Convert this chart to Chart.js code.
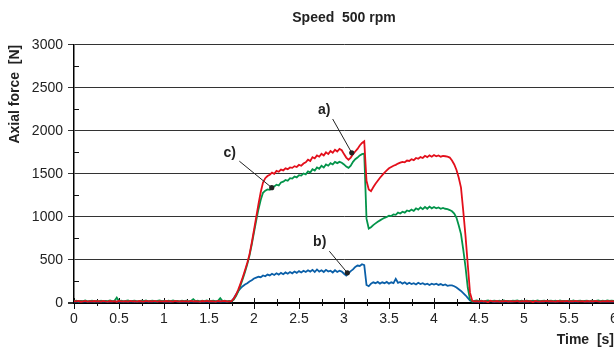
<!DOCTYPE html>
<html>
<head>
<meta charset="utf-8">
<title>Speed 500 rpm</title>
<script src="https://cdn.jsdelivr.net/npm/chart.js@4.4.0/dist/chart.umd.min.js"></script>
<style>
  html, body { margin: 0; padding: 0; background: #fff; }
  #wrap { width: 614px; height: 347px; }
</style>
</head>
<body>
<div id="wrap"><canvas id="force-chart" width="614" height="347"></canvas></div>
<script>
// sampling grid: one reading every 0.025 s, 0 .. 6 s
const times = Array.from({ length: 241 }, (_, i) => +(i * 0.025).toFixed(3));

// a) red curve
const forceA = [
  22, 18, 25, 15, 20, 24, 17, 21, 19, 23,
  18, 22, 16, 25, 20, 17, 23, 19, 21, 15,
  24, 18, 20, 22, 16, 25, 19, 21, 17, 23,
  20, 16, 24, 19, 22, 18, 25, 17, 21, 20,
  18, 23, 19, 21, 16, 24, 20, 18, 22, 19,
  21, 17, 24, 18, 22, 20, 16, 23, 19, 25,
  18, 22, 20, 17, 24, 19, 21, 23, 18, 20,
  22, 50, 95, 155, 225, 300, 380, 465, 565, 700,
  850, 1000, 1150, 1290, 1400, 1450, 1475, 1490, 1515, 1500,
  1535, 1525, 1550, 1540, 1565, 1555, 1575, 1570, 1590, 1580,
  1605, 1595, 1620, 1635, 1665, 1650, 1695, 1680, 1715, 1700,
  1735, 1715, 1750, 1730, 1765, 1745, 1780, 1760, 1790, 1775,
  1730, 1690, 1665, 1690, 1730, 1760, 1790, 1830, 1860, 1880,
  1420, 1320, 1300, 1345, 1385, 1420, 1455, 1485, 1515, 1540,
  1565, 1580, 1595, 1605, 1620, 1630, 1640, 1635, 1655, 1650,
  1670, 1660, 1685, 1675, 1695, 1685, 1710, 1695, 1715, 1700,
  1720, 1705, 1715, 1700, 1710, 1705, 1700, 1690, 1655, 1610,
  1545, 1455, 1340, 1070, 780, 450, 120, 25, 18, 22,
  16, 24, 19, 21, 8, 26, 18, 20, 23, 17,
  21, 19, 25, 16, 22, 18, 20, 24, 17, 21,
  19, 23, 18, 22, 10, 25, 20, 17, 22, 19,
  24, 18, 21, 20, 16, 23, 19, 22, 18, 25,
  17, 21, 19, 24, 18, 20, 22, 16, 23, 19,
  21, 18, 24, 20, 17, 22, 19, 23, 18, 21,
  20
];

// c) green curve
const forceC = [
  20, 26, 18, 24, 21, 30, 19, 23, 27, 18,
  25, 20, 28, 19, 24, 22, 30, 21, 26, 62,
  22, 27, 19, 25, 30, 20, 24, 28, 19, 23,
  26, 21, 29, 20, 24, 27, 18, 25, 30, 22,
  24, 19, 27, 22, 30, 21, 25, 18, 26, 23,
  28, 20, 24, 45, 22, 26, 19, 27, 23, 30,
  21, 25, 28, 20, 24, 55, 22, 26, 19, 24,
  20, 40, 80, 135, 205, 280, 360, 450, 550, 680,
  820, 960, 1090, 1200, 1280, 1305, 1320, 1315, 1340, 1355,
  1375, 1365, 1400, 1410, 1430, 1420, 1450, 1445, 1470, 1460,
  1485, 1480, 1505, 1495, 1530, 1515, 1555, 1540, 1575, 1560,
  1595, 1575, 1610, 1595, 1625, 1610, 1640, 1625, 1640, 1630,
  1610, 1585, 1570, 1595, 1640, 1670, 1690, 1715, 1730, 1735,
  980, 865, 880, 905, 925, 945, 960, 975, 990, 1000,
  1015, 1010, 1030, 1025, 1050, 1040, 1060, 1050, 1075, 1065,
  1085, 1070, 1100, 1085, 1110, 1090, 1115, 1095, 1120, 1100,
  1115, 1100, 1110, 1095, 1105, 1095, 1090, 1080, 1065, 1040,
  990, 900, 800, 620, 420, 180, 40, 15, 24, 30,
  22, 27, 19, 25, 30, 21, 24, 28, 20, 26,
  23, 29, 21, 25, 19, 27, 24, 30, 22, 26,
  20, 28, 24, 19, 26, 22, 30, 21, 25, 27,
  19, 24, 28, 22, 26, 20, 29, 23, 25, 21,
  27, 22, 30, 19, 25, 28, 21, 24, 26, 20,
  28, 23, 25, 30, 21, 26, 22, 29, 24, 27,
  23
];

// b) blue curve
const forceB = [
  16, 19, 14, 18, 17, 20, 15, 18, 16, 19,
  17, 15, 20, 16, 18, 14, 19, 17, 21, 16,
  18, 16, 19, 15, 20, 17, 18, 14, 19, 16,
  17, 20, 15, 18, 16, 19, 17, 15, 20, 18,
  16, 19, 17, 14, 18, 20, 15, 17, 19, 16,
  18, 15, 20, 17, 16, 19, 14, 18, 17, 20,
  16, 18, 15, 19, 17, 20, 16, 18, 15, 19,
  20, 55, 100, 140, 170, 195, 215, 230, 250, 265,
  285, 295, 305, 300, 320, 310, 330, 320, 340, 325,
  345, 330, 350, 335, 355, 340, 360, 345, 365, 350,
  370, 355, 375, 360, 380, 365, 385, 360, 390, 365,
  380, 360, 385, 365, 375, 355, 380, 360, 375, 365,
  340, 320, 345, 370, 390, 420, 435, 430, 450, 440,
  210, 195, 225, 240, 230, 245, 225, 240, 230, 245,
  225, 240, 230, 280, 235, 245, 225, 240, 220, 235,
  220, 230, 215, 235, 220, 230, 215, 225, 210, 225,
  215, 225, 210, 220, 205, 215, 200, 205, 205, 195,
  180, 160, 140, 115, 90, 60, 30, 18, 16, 19,
  17, 20, 15, 18, 16, 21, 17, 14, 19, 16,
  18, 15, 20, 17, 19, 16, 21, 18, 15, 20,
  17, 19, 16, 22, 18, 15, 20, 17, 19, 16,
  21, 17, 18, 15, 20, 16, 19, 22, 17, 18,
  16, 20, 17, 19, 15, 21, 18, 16, 20, 17,
  19, 16, 21, 18, 15, 20, 17, 19, 16, 18,
  17
];

const xTickLabels = ['0', '0.5', '1', '1.5', '2', '2.5', '3', '3.5', '4', '4.5', '5', '5.5', '6'];
const yTickLabels = ['0', '500', '1000', '1500', '2000', '2500', '3000'];

// curve markers: label, label spot, leader start, leader end (data units)
const markerNames = ['a)', 'b)', 'c)'];
const markerText = [[2.78, 2240], [2.73, 712], [1.73, 1737]];
const markerFrom = [[2.874, 2138], [2.837, 602], [1.837, 1648]];
const markerTo = [[3.086, 1745], [3.037, 351], [2.197, 1340]];

(function () {
  'use strict';

  const FONT = "'Liberation Sans', Arial, Helvetica, sans-serif";

  function pts(values) {
    return values.map((v, i) => ({ x: times[i], y: v }));
  }

  // minor / major tick marks drawn by hand
  const axisTicks = {
    id: 'axisTicks',
    beforeDatasetsDraw(chart) {
      const { ctx, chartArea } = chart;
      const x = chart.scales.x;
      const y = chart.scales.y;
      const xs = x.ticks.map(t => t.value);
      const ys = y.ticks.map(t => t.value);
      ctx.save();
      ctx.strokeStyle = '#111';
      ctx.lineWidth = 1;
      ctx.beginPath();
      xs.forEach((v, i) => {
        const px = Math.round(x.getPixelForValue(v)) + 0.5;
        ctx.moveTo(px, chartArea.bottom - 5);
        ctx.lineTo(px, chartArea.bottom + 6);
        if (i < xs.length - 1) {
          const mx = Math.round(x.getPixelForValue((v + xs[i + 1]) / 2)) + 0.5;
          ctx.moveTo(mx, chartArea.bottom - 4);
          ctx.lineTo(mx, chartArea.bottom + 3);
        }
      });
      ys.forEach((v, i) => {
        if (i < ys.length - 1) {
          const my = Math.round(y.getPixelForValue((v + ys[i + 1]) / 2)) + 0.5;
          ctx.moveTo(chartArea.left - 1, my);
          ctx.lineTo(chartArea.left + 5, my);
        }
      });
      ctx.stroke();
      ctx.restore();
    }
  };

  const curveMarkers = {
    id: 'curveMarkers',
    afterDatasetsDraw(chart) {
      const { ctx } = chart;
      const x = chart.scales.x;
      const y = chart.scales.y;
      ctx.save();
      ctx.strokeStyle = '#222';
      ctx.fillStyle = '#222';
      ctx.lineWidth = 1;
      markerNames.forEach((name, i) => {
        const x0 = x.getPixelForValue(markerFrom[i][0]);
        const y0 = y.getPixelForValue(markerFrom[i][1]);
        const x1 = x.getPixelForValue(markerTo[i][0]);
        const y1 = y.getPixelForValue(markerTo[i][1]);
        ctx.beginPath();
        ctx.moveTo(x0, y0);
        ctx.lineTo(x1, y1);
        ctx.stroke();
        ctx.beginPath();
        ctx.arc(x1, y1, 2.6, 0, Math.PI * 2);
        ctx.fill();
        ctx.font = 'bold 14px ' + FONT;
        ctx.textAlign = 'center';
        ctx.textBaseline = 'middle';
        ctx.fillText(name, x.getPixelForValue(markerText[i][0]), y.getPixelForValue(markerText[i][1]));
      });
      ctx.restore();
    }
  };

  const canvas = document.getElementById('force-chart');

  new Chart(canvas, {
    type: 'line',
    data: {
      datasets: [
        {
          label: 'a)',
          data: pts(forceA),
          borderColor: '#e30f1b',
          borderWidth: 1.8,
          pointRadius: 0,
          tension: 0
        },
        {
          label: 'c)',
          data: pts(forceC),
          borderColor: '#03944a',
          borderWidth: 1.8,
          pointRadius: 0,
          tension: 0
        },
        {
          label: 'b)',
          data: pts(forceB),
          borderColor: '#0a5fa8',
          borderWidth: 1.8,
          pointRadius: 0,
          tension: 0
        }
      ]
    },
    options: {
      responsive: false,
      animation: false,
      events: [],
      layout: { padding: 0 },
      scales: {
        x: {
          type: 'linear',
          min: 0,
          max: 6,
          grid: { display: false },
          border: { display: true, color: '#000', width: 2 },
          ticks: {
            stepSize: 0.5,
            padding: 0,
            maxRotation: 0,
            autoSkip: false,
            color: '#222',
            font: { family: FONT, size: 14 },
            callback: (v) => xTickLabels[Math.round(v * 2)]
          },
          title: {
            display: true,
            text: 'Time  [s]',
            align: 'end',
            color: '#222',
            padding: { top: 0, bottom: 0 },
            font: { family: FONT, size: 14, weight: 'bold', lineHeight: 1 }
          },
          afterFit(scale) {
            scale.height = 44;
            scale.paddingLeft = 0;
            scale.paddingRight = 0;
          }
        },
        y: {
          min: 0,
          max: 3000,
          grid: {
            color: '#333',
            lineWidth: (c) => (c.tick && c.tick.value === 0 ? 2 : 1),
            drawTicks: true,
            tickLength: 6
          },
          border: { display: true, color: '#000', width: 1.5 },
          ticks: {
            stepSize: 500,
            padding: 5,
            color: '#222',
            font: { family: FONT, size: 14 },
            callback: (v) => yTickLabels[Math.round(v / 500)]
          },
          title: {
            display: true,
            text: 'Axial force  [N]',
            align: 'end',
            color: '#222',
            padding: { top: 7, bottom: 0 },
            font: { family: FONT, size: 14, weight: 'bold' }
          },
          afterFit(scale) {
            scale.width = 74;
          }
        }
      },
      plugins: {
        legend: { display: false },
        tooltip: { enabled: false },
        title: {
          display: true,
          text: 'Speed  500 rpm',
          fullSize: false,
          color: '#222',
          padding: { top: 10, bottom: 18 },
          font: { family: FONT, size: 14, weight: 'bold' }
        }
      }
    },
    plugins: [axisTicks, curveMarkers]
  });
})();
</script>
</body>
</html>
